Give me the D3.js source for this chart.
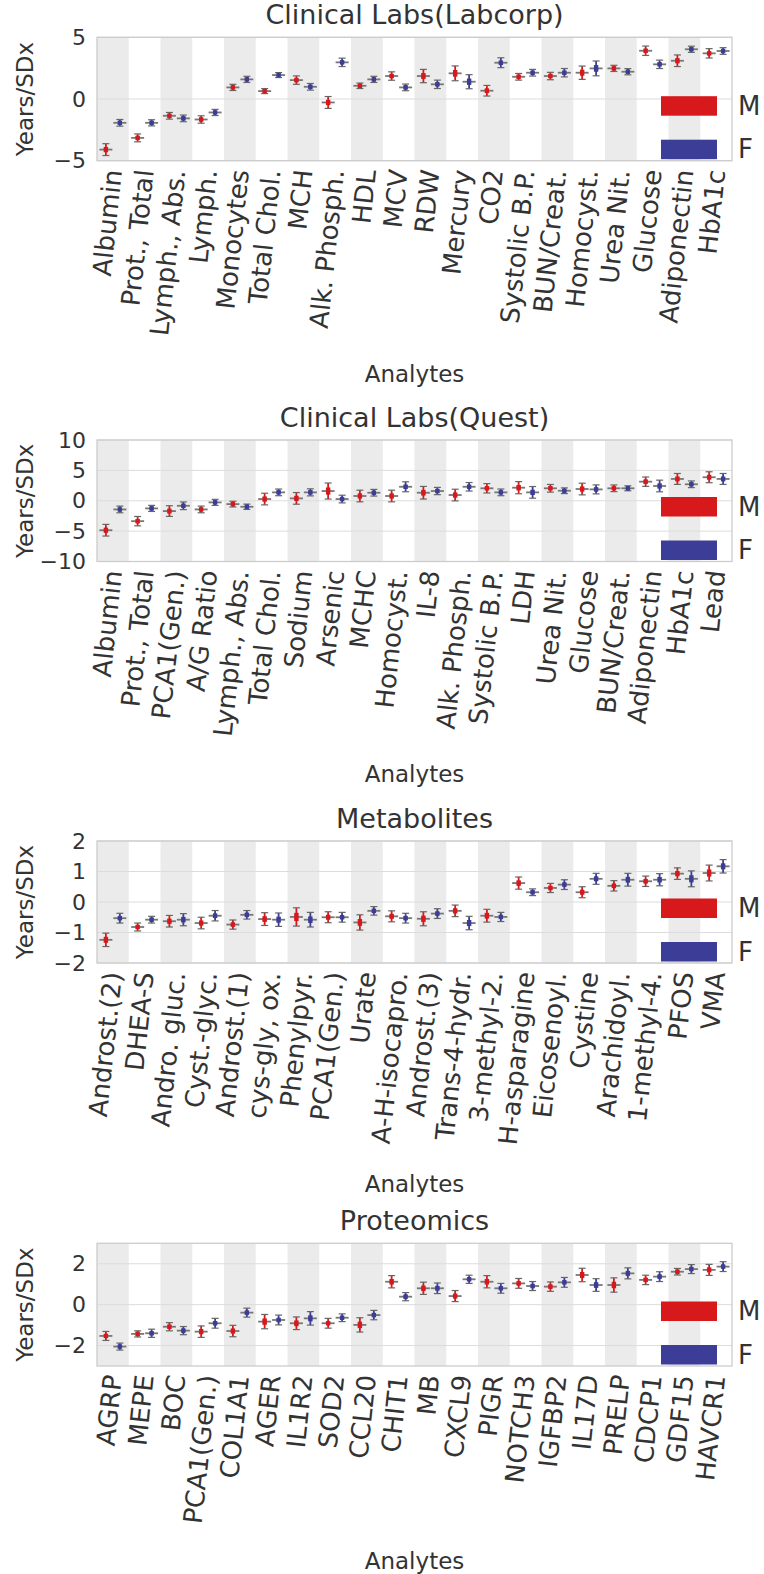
<!DOCTYPE html>
<html><head><meta charset="utf-8">
<script src="https://cdn.jsdelivr.net/npm/d3@7"></script>
<style>
body{margin:0;background:#fff}
svg{display:block}
text{font-family:"DejaVu Sans",sans-serif;fill:#333}
</style>
</head><body>
<svg id="chart" width="764" height="1574"></svg>
<script>
// ---------------- DATA ----------------
const labcorpLabels = ["Albumin","Prot., Total","Lymph., Abs.","Lymph.","Monocytes","Total Chol.","MCH","Alk. Phosph.","HDL","MCV","RDW","Mercury","CO2","Systolic B.P.","BUN/Creat.","Homocyst.","Urea Nit.","Glucose","Adiponectin","HbA1c"];
const labcorpM    = [-4.1,-3.15,-1.36,-1.66,0.94,0.64,1.53,-0.28,1.07,1.86,1.86,2.08,0.67,1.80,1.86,2.13,2.48,3.91,3.10,3.70];
const labcorpF    = [-1.93,-1.93,-1.57,-1.09,1.59,1.94,0.99,2.97,1.59,0.94,1.19,1.40,2.94,2.13,2.13,2.48,2.21,2.81,4.03,3.89];
const labcorpMErr = [0.48,0.32,0.27,0.30,0.25,0.20,0.34,0.48,0.22,0.34,0.54,0.60,0.43,0.27,0.30,0.54,0.25,0.38,0.47,0.38];
const labcorpFErr = [0.27,0.25,0.27,0.25,0.25,0.20,0.27,0.34,0.25,0.27,0.34,0.57,0.40,0.27,0.34,0.60,0.25,0.34,0.25,0.27];
const labcorpTicks = [-5,0,5];
const labcorpDomain = [-5,5];

const questLabels = ["Albumin","Prot., Total","PCA1(Gen.)","A/G Ratio","Lymph., Abs.","Total Chol.","Sodium","Arsenic","MCHC","Homocyst.","IL-8","Alk. Phosph.","Systolic B.P.","LDH","Urea Nit.","Glucose","BUN/Creat.","Adiponectin","HbA1c","Lead"];
const questM    = [-4.85,-3.36,-1.70,-1.43,-0.55,0.28,0.39,1.60,0.78,0.78,1.32,0.94,2.05,2.15,2.05,1.93,2.05,3.14,3.59,3.87];
const questF    = [-1.43,-1.26,-0.83,-0.27,-0.99,1.38,1.38,0.28,1.32,2.30,1.60,2.30,1.38,1.38,1.65,1.87,2.05,2.43,2.71,3.59];
const questMErr = [0.96,0.77,0.88,0.55,0.47,0.96,0.96,1.32,0.96,0.96,1.04,0.96,0.77,1.00,0.63,0.96,0.55,0.77,0.90,0.90];
const questFErr = [0.55,0.50,0.63,0.50,0.44,0.55,0.58,0.63,0.55,0.82,0.60,0.70,0.55,0.96,0.47,0.74,0.41,0.96,0.55,0.90];
const questTicks = [-10,-5,0,5,10];
const questDomain = [-10,10];

const metabLabels = ["Androst.(2)","DHEA-S","Andro. gluc.","Cyst.-glyc.","Androst.(1)","cys-gly, ox.","Phenylpyr.","PCA1(Gen.)","Urate","A-H-isocapro.","Androst.(3)","Trans-4-hydr.","3-methyl-2.","H-asparagine","Eicosenoyl.","Cystine","Arachidoyl.","1-methyl-4.","PFOS","VMA"];
const metabM    = [-1.24,-0.82,-0.63,-0.69,-0.74,-0.56,-0.49,-0.50,-0.67,-0.47,-0.55,-0.29,-0.45,0.62,0.46,0.32,0.53,0.68,0.93,0.95];
const metabF    = [-0.53,-0.58,-0.58,-0.45,-0.42,-0.58,-0.58,-0.50,-0.29,-0.53,-0.38,-0.69,-0.49,0.32,0.57,0.76,0.73,0.73,0.76,1.17];
const metabMErr = [0.22,0.13,0.19,0.19,0.15,0.21,0.30,0.18,0.25,0.18,0.23,0.19,0.21,0.20,0.15,0.18,0.17,0.17,0.19,0.26];
const metabFErr = [0.16,0.11,0.20,0.17,0.14,0.22,0.24,0.16,0.14,0.16,0.16,0.22,0.15,0.11,0.16,0.18,0.21,0.20,0.26,0.22];
const metabTicks = [-2,-1,0,1,2];
const metabDomain = [-2,2];

const protLabels = ["AGRP","MEPE","BOC","PCA1(Gen.)","COL1A1","AGER","IL1R2","SOD2","CCL20","CHIT1","MB","CXCL9","PIGR","NOTCH3","IGFBP2","IL17D","PRELP","CDCP1","GDF15","HAVCR1"];
const protM    = [-1.53,-1.43,-1.08,-1.32,-1.29,-0.83,-0.91,-0.91,-0.99,1.12,0.80,0.42,1.12,1.04,0.88,1.45,0.96,1.21,1.61,1.70];
const protF    = [-2.05,-1.40,-1.27,-0.91,-0.39,-0.75,-0.67,-0.64,-0.51,0.39,0.80,1.24,0.80,0.91,1.09,0.96,1.53,1.37,1.74,1.86];
const protMErr = [0.22,0.15,0.20,0.28,0.28,0.35,0.31,0.24,0.35,0.30,0.30,0.27,0.30,0.24,0.23,0.33,0.35,0.23,0.16,0.27];
const protFErr = [0.17,0.20,0.20,0.24,0.22,0.24,0.33,0.19,0.23,0.20,0.26,0.20,0.24,0.22,0.24,0.31,0.27,0.24,0.22,0.24];
const protTicks = [-2,0,2];
const protDomain = [-3,3];

const sexNames = ["M","F"];
const sexColors = ["#d7191c","#3b3d96"];

// ---------------- LAYOUT ----------------
const panels = [
  {title:"Clinical Labs(Labcorp)", labels:labcorpLabels, m:labcorpM, f:labcorpF, me:labcorpMErr, fe:labcorpFErr, ticks:labcorpTicks, domain:labcorpDomain, top:37.3, bottom:160.7, xlab:382},
  {title:"Clinical Labs(Quest)", labels:questLabels, m:questM, f:questF, me:questMErr, fe:questFErr, ticks:questTicks, domain:questDomain, top:440, bottom:561.5, xlab:782},
  {title:"Metabolites", labels:metabLabels, m:metabM, f:metabF, me:metabMErr, fe:metabFErr, ticks:metabTicks, domain:metabDomain, top:841, bottom:963, xlab:1192},
  {title:"Proteomics", labels:protLabels, m:protM, f:protF, me:protMErr, fe:protFErr, ticks:protTicks, domain:protDomain, top:1243.3, bottom:1366, xlab:1569}
];
const left = 97, right = 732;
const svg = d3.select("#chart");
const fmt = d3.format("d");

panels.forEach(p => {
  const g = svg.append("g");
  const x = d3.scaleBand().domain(p.labels).range([left, right]);
  const y = d3.scaleLinear().domain(p.domain).range([p.bottom, p.top]);
  const bw = x.bandwidth();

  // alternating bands
  g.selectAll(".band").data(p.labels.filter((d,i)=>i%2===0)).enter().append("rect")
    .attr("x", d=>x(d)).attr("y", p.top).attr("width", bw).attr("height", p.bottom-p.top)
    .attr("fill", "#ebebeb");

  // gridlines
  g.selectAll(".grid").data(p.ticks).enter().append("line")
    .attr("x1", left).attr("x2", right).attr("y1", d=>y(d)).attr("y2", d=>y(d))
    .attr("stroke", "#dcdcdc").attr("stroke-width", 1);

  // frame
  g.append("rect").attr("x", left).attr("y", p.top).attr("width", right-left).attr("height", p.bottom-p.top)
    .attr("fill","none").attr("stroke","#cccccc").attr("stroke-width",1.3);

  // y axis
  const yAxis = d3.axisLeft(y).tickValues(p.ticks).tickFormat(fmt).tickSize(0).tickPadding(11);
  const ya = g.append("g").attr("transform", `translate(${left},0)`).call(yAxis);
  ya.select(".domain").remove();
  ya.selectAll("text").attr("font-size", 22).attr("fill","#333").attr("font-family","DejaVu Sans");

  // x axis
  const xAxis = d3.axisBottom(x).tickSize(0).tickPadding(0);
  const xa = g.append("g").attr("transform", `translate(0,${p.bottom+9})`).call(xAxis);
  xa.select(".domain").remove();
  xa.selectAll("text").attr("font-size", 26).attr("fill","#333").attr("font-family","DejaVu Sans")
    .attr("text-anchor","end").attr("dy","0.35em").attr("transform","rotate(-84)");

  // titles
  g.append("text").attr("x", (left+right)/2).attr("y", p.top-13).attr("text-anchor","middle")
    .attr("font-size", 27).text(p.title);
  g.append("text").attr("x", (left+right)/2).attr("y", p.xlab).attr("text-anchor","middle")
    .attr("font-size", 23).text("Analytes");
  g.append("text").attr("transform", `translate(33,${(p.top+p.bottom)/2}) rotate(-90)`)
    .attr("text-anchor","middle").attr("font-size", 23).text("Years/SDx");

  // boxes
  const series = [
    {vals:p.m, err:p.me, color:sexColors[0], off:-0.22},
    {vals:p.f, err:p.fe, color:sexColors[1], off:0.22}
  ];
  series.forEach(s => {
    p.labels.forEach((lab, i) => {
      const cx = x(lab) + bw/2 + s.off*bw;
      const v = s.vals[i], e = s.err[i];
      const yc = y(v), yl = y(v - e), yh = y(v + e);
      const hb = Math.max(2.2, (yl - yc) * 0.45);
      const mk = g.append("g");
      mk.append("line").attr("x1",cx).attr("x2",cx).attr("y1",yh).attr("y2",yl)
        .attr("stroke", s.color).attr("stroke-width",1.8);
      [yh, yl].forEach(yy => mk.append("line").attr("x1",cx-3.5).attr("x2",cx+3.5).attr("y1",yy).attr("y2",yy)
        .attr("stroke","#666").attr("stroke-width",1.2));
      mk.append("rect").attr("x",cx-2.2).attr("y",yc-hb).attr("width",4.4).attr("height",2*hb)
        .attr("fill", s.color);
      mk.append("line").attr("x1",cx-6.5).attr("x2",cx+6.5).attr("y1",yc).attr("y2",yc)
        .attr("stroke","#777").attr("stroke-width",1.8);
      mk.append("circle").attr("cx",cx).attr("cy",yc).attr("r",2.3).attr("fill",s.color);
    });
  });

  // legend
  sexNames.forEach((nm, k) => {
    const yb = k === 0 ? p.bottom - 45 : p.bottom - 1.5;
    g.append("rect").attr("x", 661).attr("y", yb - 19.5).attr("width", 56).attr("height", 19.5)
      .attr("fill", sexColors[k]);
    g.append("text").attr("x", 738).attr("y", yb - 1).attr("font-size", 26).text(nm);
  });
});
</script>
</body></html>
